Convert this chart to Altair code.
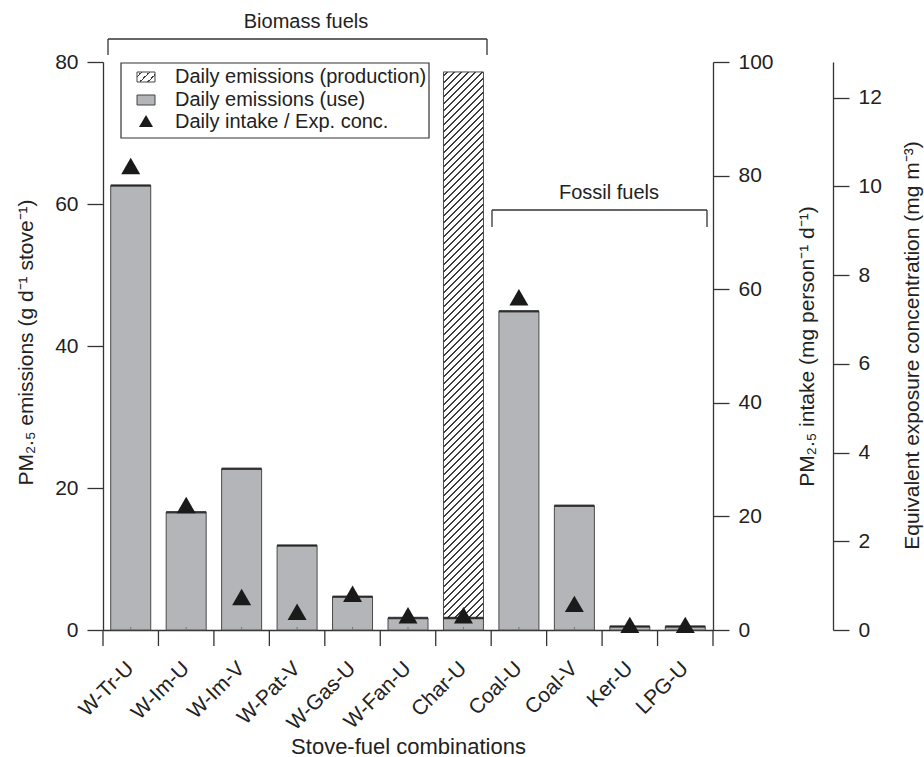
import altair as alt
import pandas as pd

# ---------------- data ----------------
categories = ["W-Tr-U", "W-Im-U", "W-Im-V", "W-Pat-V", "W-Gas-U", "W-Fan-U",
              "Char-U", "Coal-U", "Coal-V", "Ker-U", "LPG-U"]
use_emissions = [62.6, 16.6, 22.7, 11.9, 4.7, 1.7, 1.7, 44.9, 17.5, 0.5, 0.5]
production_emissions = [0, 0, 0, 0, 0, 0, 76.9, 0, 0, 0, 0]
daily_intake = [81.7, 22.0, 5.8, 3.2, 6.4, 2.6, 2.6, 58.6, 4.6, 0.9, 0.9]
emission_ticks = [0, 20, 40, 60, 80]
intake_ticks = [0, 20, 40, 60, 80, 100]
conc_ticks = [0, 2, 4, 6, 8, 10, 12]
group_labels = ["Biomass fuels", "Fossil fuels"]
legend_labels = ["Daily emissions (production)", "Daily emissions (use)",
                 "Daily intake / Exp. conc."]

# ---------------- layout / style ----------------
W, H = 610, 568
EMAX, IMAX, CMAX = 80, 100, 12.8
FONT = "Liberation Sans"
INK = "#222222"
LINE = "#333333"
GREY = "#b4b5b8"
BAR_W = 40

df = pd.DataFrame({"cat": categories, "use": use_emissions,
                   "prod": production_emissions, "intake": daily_intake})
df["top"] = df["use"] + df["prod"]
dummy = pd.DataFrame({"k": [0]})


def hatch(w, h, spacing=7.0, lw=1.8, ink="#3c3c3c"):
    L = w + h
    k = L / (w * w + h * h)
    stops = []
    i = 0
    while True:
        t0 = (i * spacing + spacing / 2) / L
        t1 = t0 + lw / L
        if t1 >= 1:
            break
        stops += [{"offset": t0, "color": "#ffffff"}, {"offset": t0, "color": ink},
                  {"offset": t1, "color": ink}, {"offset": t1, "color": "#ffffff"}]
        i += 1
    return {"gradient": "linear", "x1": 0, "y1": 0, "x2": w * k, "y2": h * k,
            "stops": stops}


x_axis = alt.Axis(orient="bottom", ticks=False, tickSize=0, domainColor=LINE,
                  domainWidth=1.3, labelAngle=315, labelAlign="right",
                  labelBaseline="middle", labelPadding=35, labelFontSize=21,
                  labelFont=FONT, labelColor=INK, labelOverlap=False, grid=False,
                  title="Stove-fuel combinations", titleFont=FONT, titleFontSize=22,
                  titleFontWeight="normal", titleColor=INK, titleX=W / 2,
                  titleY=123, titleAlign="center", titleBaseline="alphabetic")
x_scale = alt.Scale(paddingInner=0, paddingOuter=0)
x_enc = alt.X("cat:N", sort=categories, scale=x_scale, axis=x_axis)


def yaxis(orient, values, title, tx, ty, offset=0):
    return alt.Axis(orient=orient, values=values, offset=offset, tickSize=16,
                    tickWidth=1.3, tickColor=LINE, domainColor=LINE, domainWidth=1.3,
                    labelFontSize=21, labelFont=FONT, labelColor=INK, labelPadding=9,
                    grid=False, title=title, titleFont=FONT, titleFontSize=21,
                    titleFontWeight="normal", titleColor=INK, titleAngle=270,
                    titleAlign="center", titleBaseline="middle", titleX=tx, titleY=ty)


e_scale = alt.Scale(domain=[0, EMAX], nice=False, zero=True)
left_axis = yaxis("left", emission_ticks, "PM₂.₅ emissions (g d⁻¹ stove⁻¹)", -77, 280)
intake_axis = yaxis("right", intake_ticks, "PM₂.₅ intake (mg person⁻¹ d⁻¹)", 94, 284)
conc_axis = yaxis("right", conc_ticks, "Equivalent exposure concentration (mg m⁻³)",
                  79, 283, offset=120)

use_bars = alt.Chart(df).mark_bar(size=BAR_W, fill=GREY, stroke="#4a4a4a",
                                  strokeWidth=1).encode(
    x=x_enc, y=alt.Y("use:Q", scale=e_scale, axis=left_axis))

hatch_h = production_emissions[6] / EMAX * H
prod_bars = alt.Chart(df).transform_filter("datum.prod > 0").mark_bar(
    size=BAR_W, fill=hatch(BAR_W, hatch_h), stroke="#4a4a4a", strokeWidth=1).encode(
    x=x_enc, y=alt.Y("top:Q", scale=e_scale), y2="use:Q")

top_ticks = alt.Chart(df).mark_tick(size=BAR_W, thickness=2.5, color="#141414").encode(
    x=x_enc, y=alt.Y("use:Q", scale=e_scale))

band_ticks = alt.Chart(df).mark_rule(color=LINE, strokeWidth=1.3).encode(
    x=alt.X("cat:N", sort=categories, scale=x_scale, axis=x_axis, bandPosition=0),
    y=alt.value(H), y2=alt.value(H + 16))
minor_ticks = alt.Chart(df).mark_rule(color="#777777", strokeWidth=1).encode(
    x=x_enc, y=alt.value(H - 3), y2=alt.value(H))


def rule(x, x2, y, y2, color=LINE, sw=1.3):
    return alt.Chart(dummy).mark_rule(color=color, strokeWidth=sw).encode(
        x=alt.value(x), x2=alt.value(x2), y=alt.value(y), y2=alt.value(y2))


def label(txt, x, y, size=20, align="center"):
    return alt.Chart(dummy).mark_text(text=txt, font=FONT, fontSize=size, color=INK,
                                      align=align, baseline="middle").encode(
        x=alt.value(x), y=alt.value(y))


end_tick = rule(W, W, H, H + 16)

annotations = [
    # biomass bracket
    rule(5, 384, -23, -23), rule(5, 5, -23, -7), rule(384, 384, -23, -7),
    label(group_labels[0], 203, -40),
    # fossil bracket
    rule(389, 604, 148, 148), rule(389, 389, 148, 165), rule(604, 604, 148, 165),
    label(group_labels[1], 506, 131),
]

legend_box = alt.Chart(dummy).mark_rect(fill="white", stroke=LINE, strokeWidth=1.2).encode(
    x=alt.value(18), x2=alt.value(326), y=alt.value(1), y2=alt.value(76))
legend_hatch = alt.Chart(dummy).mark_rect(fill=hatch(18, 10, spacing=8, lw=1.8),
                                          stroke="#444444", strokeWidth=1).encode(
    x=alt.value(34), x2=alt.value(52), y=alt.value(10), y2=alt.value(20))
legend_grey = alt.Chart(dummy).mark_rect(fill=GREY, stroke="#444444", strokeWidth=1).encode(
    x=alt.value(34), x2=alt.value(52), y=alt.value(33), y2=alt.value(43))
legend_tri = alt.Chart(dummy).mark_point(shape="triangle-up", filled=True, size=196,
                                         color="#1a1a1a", opacity=1).encode(
    x=alt.value(43), y=alt.value(59))
legend = [legend_box, legend_hatch, legend_grey, legend_tri,
          label(legend_labels[0], 72, 15, align="left"),
          label(legend_labels[1], 72, 38, align="left"),
          label(legend_labels[2], 72, 60, align="left")]

inner = alt.layer(use_bars, prod_bars, top_ticks, band_ticks, minor_ticks, end_tick,
                  *annotations, *legend)

triangles = alt.Chart(df).mark_point(shape="triangle-up", filled=True, size=361,
                                     color="#1a1a1a", opacity=1).encode(
    x=x_enc,
    y=alt.Y("intake:Q", scale=alt.Scale(domain=[0, IMAX], nice=False), axis=intake_axis))

conc_layer = alt.Chart(pd.DataFrame({"conc": conc_ticks})).mark_point(opacity=0).encode(
    y=alt.Y("conc:Q", scale=alt.Scale(domain=[0, CMAX], nice=False), axis=conc_axis))

chart = alt.layer(inner, triangles, conc_layer).resolve_scale(y="independent").properties(
    width=W, height=H,
    padding={"left": 103, "top": 62, "right": 924 - 103 - W, "bottom": 757 - 62 - H},
    autosize=alt.AutoSizeParams(type="none"),
    background="white",
).configure_view(stroke=None)

chart.save("out.html", embed_options={"renderer": "svg", "actions": False})
